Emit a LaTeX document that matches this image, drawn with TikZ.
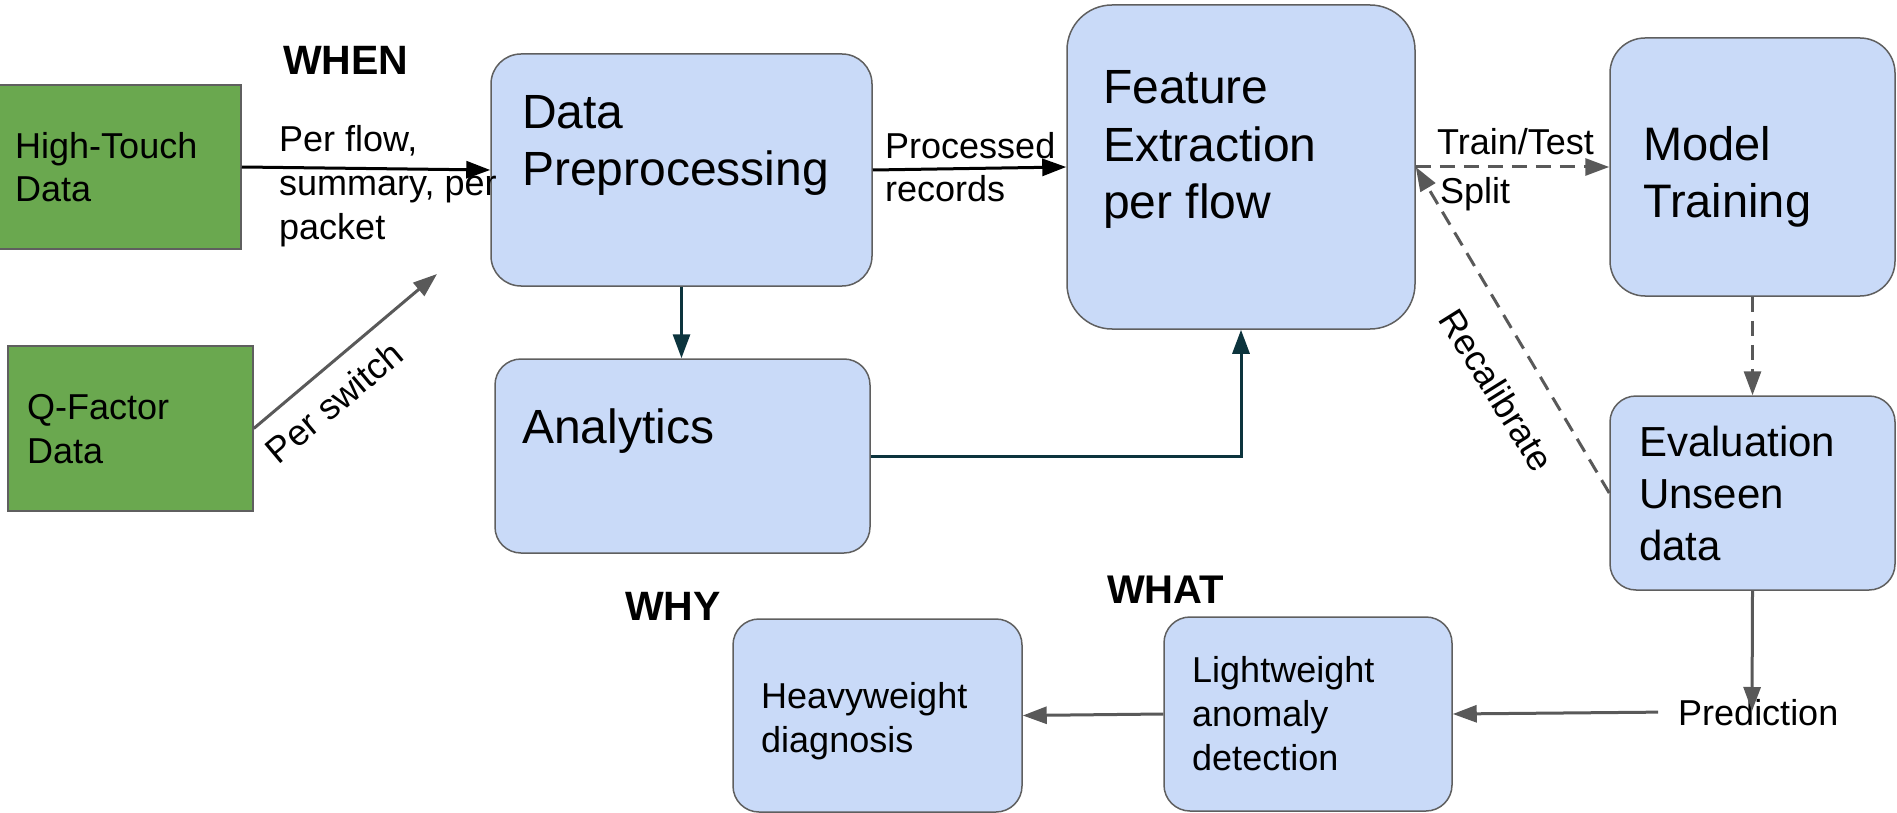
\documentclass[tikz,border=0pt]{standalone}
\usepackage{fontspec}
\setmainfont{Liberation Sans}
\usetikzlibrary{arrows.meta}
\definecolor{boxblue}{RGB}{201,218,248}
\definecolor{boxgreen}{RGB}{106,168,79}
\definecolor{edgegray}{RGB}{95,95,95}
\definecolor{arrowgray}{RGB}{89,89,89}
\definecolor{darkteal}{RGB}{12,52,61}
% stacked left-aligned lines whose baseline is the first line's
\newcommand\linesof[1]{\begin{tabular}[t]{@{}l@{}}#1\end{tabular}}
\newcommand\fs[2]{\fontsize{#1}{#2}\selectfont}
\tikzset{
  bluebox/.style={draw=edgegray, line width=1.5pt, fill=boxblue, inner sep=0pt},
  greenbox/.style={draw=edgegray, line width=1.5pt, fill=boxgreen, inner sep=0pt},
  txt/.style={inner sep=0pt, anchor=base west, text=black},
  tip/.style={-{Triangle[length=24pt,width=17pt]}},
  blackarrow/.style={tip, draw=black, line width=3pt},
  grayarrow/.style={tip, draw=arrowgray, line width=3pt},
  dasharrow/.style={tip, draw=arrowgray, line width=3pt, dash pattern=on 15pt off 9pt},
  tealarrow/.style={tip, draw=darkteal, line width=3pt},
}
\begin{document}
\begin{tikzpicture}[x=1pt, y=-1pt]
\useasboundingbox (0,0) rectangle (1897,813);

% source boxes
\node[greenbox, minimum width=243pt, minimum height=164pt] (ht) at (119.5,167) {};
\node[greenbox, minimum width=245pt, minimum height=165pt] (qf) at (130.5,428.5) {};
\node[txt] (ht-t) at (15,159) {\fs{36}{43}\linesof{High-Touch\\Data}};
\node[txt] (qf-t) at (27,419) {\fs{36}{44}\linesof{Q-Factor\\Data}};

% processing boxes
\node[bluebox, rounded corners=30pt, minimum width=381pt, minimum height=232pt] (prep) at (681.5,170) {};
\node[bluebox, rounded corners=26pt, minimum width=375pt, minimum height=194pt] (ana) at (682.5,456) {};
\node[bluebox, rounded corners=45pt, minimum width=348pt, minimum height=324pt] (feat) at (1241,167) {};
\node[bluebox, rounded corners=35pt, minimum width=285pt, minimum height=258pt] (model) at (1752.5,167) {};
\node[bluebox, rounded corners=26pt, minimum width=285pt, minimum height=194pt] (eval) at (1752.5,493) {};
\node[bluebox, rounded corners=26pt, minimum width=289pt, minimum height=193pt] (heavy) at (877.5,715.5) {};
\node[bluebox, rounded corners=26pt, minimum width=288pt, minimum height=194pt] (light) at (1308,714) {};

\node[txt] (prep-t) at (522,129) {\fs{48}{57}\linesof{Data\\Preprocessing}};
\node[txt] (ana-t) at (522,443) {\fs{48}{57}Analytics};
\node[txt] (feat-t) at (1103,104) {\fs{48}{57.5}\linesof{Feature\\Extraction\\per flow}};
\node[txt] (model-t) at (1643,161) {\fs{47}{57}\linesof{Model\\Training}};
\node[txt] (eval-t) at (1639,456) {\fs{42}{52}\linesof{Evaluation\\Unseen\\data}};
\node[txt] (heavy-t) at (761,708) {\fs{36}{44}\linesof{Heavyweight\\diagnosis}};
\node[txt] (light-t) at (1192,682) {\fs{36}{44}\linesof{Lightweight\\anomaly\\detection}};
\node[txt] (pred) at (1678,725) {\fs{36}{43}Prediction};

% headings
\node[txt] (when) at (283,75) {\fs{41}{49}\bfseries WHEN};
\node[txt] (what) at (1107,603) {\fs{40}{48}\bfseries WHAT};
\node[txt] (why) at (625,620) {\fs{41}{49}\bfseries WHY};

% connector labels
\node[txt] (flow-l) at (279,152) {\fs{36}{44}\linesof{Per flow,\\summary, per\\packet}};
\node[txt] (rec-l) at (885,159) {\fs{36}{43}\linesof{Processed\\records}};
\node[txt] (split-l) at (1437,155) {\fs{36}{49}\linesof{Train/Test\\\hspace*{3pt}Split}};
\node[inner sep=0pt, rotate=40] (sw-l) at (334,402) {\fs{36}{43}Per switch};
\node[inner sep=0pt, rotate=-58] (recal-l) at (1497,390) {\fs{36}{43}Recalibrate};

% connectors
\coordinate (swend) at (437,274);
\coordinate (predtop) at (1752,711);
\draw[blackarrow] (ht.east) -- (prep.west);
\draw[grayarrow] (qf.east) -- (swend);
\draw[blackarrow] (prep.east) -- (feat.west);
\draw[tealarrow] (prep.south) -- (prep.south |- ana.north);
\draw[tealarrow] (ana.east) -| (feat.south);
\draw[dasharrow] (feat.east) -- (model.west);
\draw[dasharrow] (model.south) -- (eval.north);
\draw[dasharrow] (eval.west) -- (feat.east);
\draw[grayarrow] (eval.south) -- (predtop);
\draw[grayarrow] ([xshift=-20pt]pred.west) -- (light.east);
\draw[grayarrow] (light.west) -- (heavy.east);
\end{tikzpicture}
\end{document}
